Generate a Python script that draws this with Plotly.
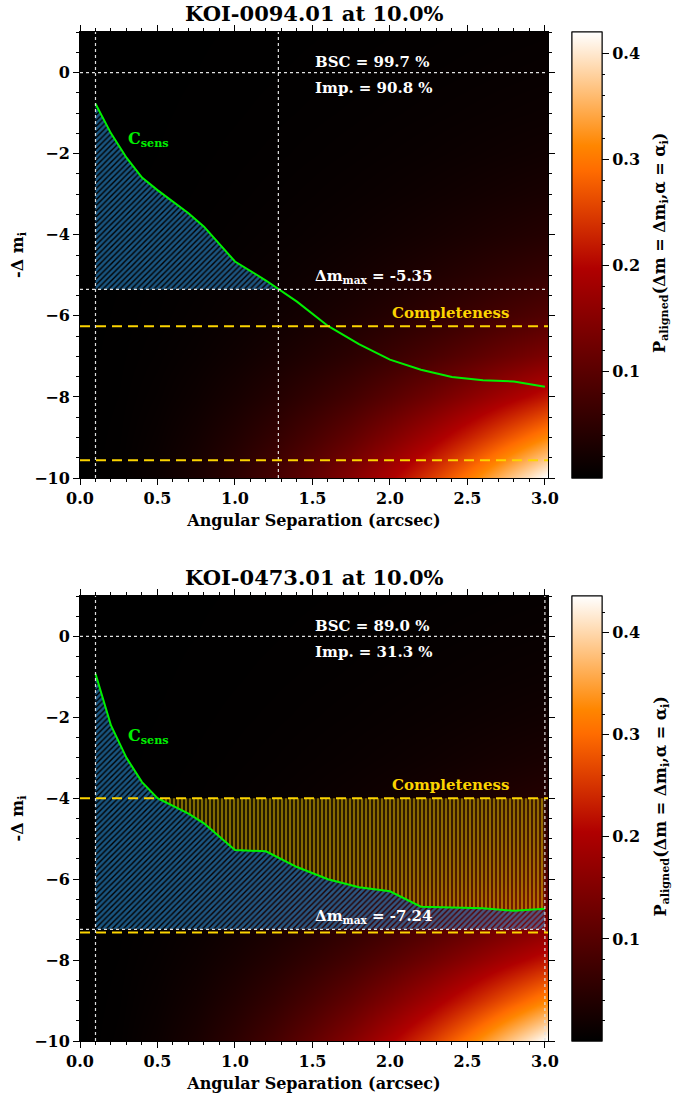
import numpy as np
import plotly.graph_objects as go

# ---------------- data ----------------
# Background probability field, sampled on a coarse grid (separable profiles)
SEP_GRID = [-0.25, 0.0, 0.25, 0.5, 0.75, 1.0, 1.25, 1.5, 1.75, 2.0, 2.25, 2.5, 2.75, 3.0, 3.25]
SEP_WEIGHT = [0.0, 0.0, 0.008, 0.03, 0.066, 0.118, 0.182, 0.26, 0.35, 0.46, 0.58, 0.715, 0.86, 1.0, 1.17]
DM_GRID = [2, 1, 0, -1, -2, -3, -4, -5, -6, -7, -8, -9, -10, -11]
DM_WEIGHT = [0.009, 0.0135, 0.020, 0.0295, 0.0437, 0.0646, 0.0955, 0.143, 0.215, 0.33, 0.51, 0.74, 1.0, 1.4]
PMAX_TOP = 0.42
PMAX_BOT = 0.436

# Contrast sensitivity curves (C_sens)
CURVE_SEP = [0.1, 0.2, 0.3, 0.4, 0.5, 0.6, 0.7, 0.8, 0.9, 1.0, 1.2, 1.4, 1.6, 1.8, 2.0, 2.2, 2.4, 2.6, 2.8, 3.0]
CSENS_TOP = [-0.77, -1.5, -2.1, -2.59, -2.9, -3.18, -3.47, -3.8, -4.22, -4.66,
             -5.13, -5.65, -6.25, -6.70, -7.08, -7.33, -7.51, -7.59, -7.62, -7.75]
CSENS_BOT = [-0.92, -2.2, -3.0, -3.6, -4.0, -4.2, -4.38, -4.62, -4.95, -5.28,
             -5.31, -5.7, -6.0, -6.2, -6.3, -6.68, -6.7, -6.72, -6.78, -6.73]

TITLE_TOP = "KOI-0094.01 at 10.0%"
TITLE_BOT = "KOI-0473.01 at 10.0%"
BSC_TOP, IMP_TOP, DMMAX_TOP = 99.7, 90.8, -5.35
BSC_BOT, IMP_BOT, DMMAX_BOT = 89.0, 31.3, -7.24
SEP_MIN = 0.1
SEPLIM_TOP, SEPLIM_BOT = 1.28, 3.0
COMPL_TOP, LIMIT_TOP = -6.26, -9.56
COMPL_BOT, LIMIT_BOT = -4.0, -7.32

CB_TICKS = [0.1, 0.2, 0.3, 0.4]
CB_TITLE = "P<sub>aligned</sub>(Δm = Δm<sub>i</sub>,α = α<sub>i</sub>)"

# ---------------- styling ----------------
W, H = 687, 1102
FONT = "DejaVu Serif"
HEAT = [
    [0.0, "rgb(0,0,0)"],
    [0.47, "rgb(176,0,0)"],
    [0.69, "rgb(255,108,0)"],
    [0.745, "rgb(255,134,0)"],
    [1.0, "rgb(255,255,255)"],
]
GREEN = "rgb(0,240,0)"
GOLD = "rgb(252,212,0)"
BLUE = "rgb(50,170,255)"

px_x = lambda p: p / W
px_y = lambda p: 1 - p / H

XDOM = [px_x(80), px_x(548)]
PANELS = [
    dict(top=32, bot=478, xa="x", ya="y"),
    dict(top=596, bot=1041, xa="x2", ya="y2"),
]

fig = go.Figure()

sep_w = np.array(SEP_WEIGHT)
dm_w = np.array(DM_WEIGHT)
sep_arr = np.array(CURVE_SEP)


def add_panel(i, pmax, csens, title, bsc, imp, dmmax, seplim, compl, limit):
    p = PANELS[i]
    xa, ya = p["xa"], p["ya"]
    z = pmax * np.outer(dm_w, sep_w)
    ymid = (px_y(p["top"]) + px_y(p["bot"])) / 2
    ylen = (p["bot"] - p["top"]) / H
    fig.add_trace(go.Heatmap(
        x=SEP_GRID, y=DM_GRID, z=z, zmin=0, zmax=pmax, colorscale=HEAT,
        zsmooth="best", xaxis=xa, yaxis=ya, hoverinfo="skip",
        colorbar=dict(
            x=px_x(572), xanchor="left", y=ymid, yanchor="middle",
            len=ylen, lenmode="fraction", thickness=30, thicknessmode="pixels",
            xpad=0, ypad=0, outlinewidth=1, outlinecolor="black",
            ticks="outside", ticklen=7, tickwidth=1, tickcolor="black",
            tickvals=CB_TICKS, tickformat=".1f",
            tickfont=dict(family=FONT, size=16, color="black", weight="bold"),
        ),
    ))
    # minor colorbar ticks via an empty scatter with its own colorbar
    minor_vals = [round(v, 2) for v in np.arange(0.02, pmax, 0.02)]
    fig.add_trace(go.Scatter(
        x=[None], y=[None], xaxis=xa, yaxis=ya, mode="markers", showlegend=False,
        marker=dict(color=[0], cmin=0, cmax=pmax, colorscale=HEAT, showscale=True,
                    colorbar=dict(
                        x=px_x(572), xanchor="left", y=ymid, yanchor="middle",
                        len=ylen, lenmode="fraction", thickness=30, thicknessmode="pixels",
                        xpad=0, ypad=0, outlinewidth=1, outlinecolor="black",
                        ticks="outside", ticklen=3, tickwidth=1, tickcolor="black",
                        tickvals=minor_vals, showticklabels=False)),
        hoverinfo="skip",
    ))
    # colorbar title (rotated)
    fig.add_annotation(x=px_x(661), y=ymid + 12 / H, xref="paper", yref="paper",
                       text=CB_TITLE, textangle=-90, showarrow=False,
                       xanchor="center", yanchor="middle",
                       font=dict(family=FONT, size=16, color="black", weight="bold"))

    cs = np.array(csens)
    # blue hatched region: between C_sens and Δm_max
    if cs[-1] < dmmax:
        xc = float(np.interp(dmmax, cs[::-1], sep_arr[::-1]))
        keep = cs > dmmax
        bx = [SEP_MIN] + list(sep_arr[keep]) + [xc, SEP_MIN]
        by = [dmmax] + list(cs[keep]) + [dmmax, dmmax]
    else:
        bx = [SEP_MIN] + list(sep_arr) + [sep_arr[-1], SEP_MIN]
        by = [dmmax] + list(cs) + [dmmax, dmmax]
    fig.add_trace(go.Scatter(
        x=bx, y=by, xaxis=xa, yaxis=ya, mode="lines", line=dict(width=0),
        fill="toself", fillcolor="rgba(0,0,0,0)", showlegend=False, hoverinfo="skip",
        fillpattern=dict(shape="/", fgcolor=BLUE, size=4, solidity=0.65, fillmode="overlay"),
    ))
    # yellow hatched region: between completeness and C_sens
    if i == 1:
        xc2 = float(np.interp(compl, cs[::-1], sep_arr[::-1]))
        keep = cs < compl
        yx = [xc2] + list(sep_arr[keep]) + [sep_arr[-1], xc2]
        yy = [compl] + list(cs[keep]) + [compl, compl]
        fig.add_trace(go.Scatter(
            x=yx, y=yy, xaxis=xa, yaxis=ya, mode="lines", line=dict(width=0),
            fill="toself", fillcolor="rgba(0,0,0,0)", showlegend=False, hoverinfo="skip",
            fillpattern=dict(shape="|", fgcolor=GOLD, size=4, solidity=0.62, fillmode="overlay"),
        ))
    # C_sens curve
    fig.add_trace(go.Scatter(
        x=CURVE_SEP, y=csens, xaxis=xa, yaxis=ya, mode="lines",
        line=dict(color=GREEN, width=2), showlegend=False, hoverinfo="skip",
    ))

    xd = xa + " domain"
    yd = ya + " domain"
    # white dotted reference lines
    for yv in (0, dmmax):
        fig.add_shape(type="line", xref=xd, yref=ya, x0=0, x1=1, y0=yv, y1=yv,
                      line=dict(color="rgb(225,225,225)", width=1.2, dash="dot"))
    for xv in (SEP_MIN, seplim):
        fig.add_shape(type="line", xref=xa, yref=yd, x0=xv, x1=xv, y0=0, y1=1,
                      line=dict(color="rgb(225,225,225)", width=1.2, dash="dot"))
    # yellow dashed lines
    for yv in (compl, limit):
        fig.add_shape(type="line", xref=xd, yref=ya, x0=0, x1=1, y0=yv, y1=yv,
                      line=dict(color=GOLD, width=2, dash="10px,6px"))

    txt = dict(family=FONT, size=15, color="white", weight="bold")
    fig.add_annotation(x=1.505, y=0.25, xref=xa, yref=ya, text=f"BSC = {bsc:.1f} %",
                       showarrow=False, xanchor="left", font=txt)
    fig.add_annotation(x=1.505, y=-0.38, xref=xa, yref=ya, text=f"Imp. = {imp:.1f} %",
                       showarrow=False, xanchor="left", font=txt)
    fig.add_annotation(x=1.505, y=dmmax + (0.33 if i == 0 else 0.31), xref=xa, yref=ya,
                       text=f"Δm<sub>max</sub> = {dmmax:.2f}",
                       showarrow=False, xanchor="left", font=txt)
    fig.add_annotation(x=2.39, y=compl + 0.33, xref=xa, yref=ya, text="Completeness",
                       showarrow=False, xanchor="center",
                       font=dict(family=FONT, size=15, color=GOLD, weight="bold"))
    cy = -1.65 if i == 0 else -2.47
    fig.add_annotation(x=0.3, y=cy, xref=xa, yref=ya, text="C<sub>sens</sub>",
                       showarrow=False, xanchor="left",
                       font=dict(family=FONT, size=16, color=GREEN, weight="bold"))
    # panel title
    fig.add_annotation(x=(XDOM[0] + XDOM[1]) / 2, y=px_y(p["top"] - 4), xref="paper", yref="paper",
                       text=title, showarrow=False, xanchor="center", yanchor="bottom",
                       font=dict(family=FONT, size=21, color="black", weight="bold"))


add_panel(0, PMAX_TOP, CSENS_TOP, TITLE_TOP, BSC_TOP, IMP_TOP, DMMAX_TOP, SEPLIM_TOP, COMPL_TOP, LIMIT_TOP)
add_panel(1, PMAX_BOT, CSENS_BOT, TITLE_BOT, BSC_BOT, IMP_BOT, DMMAX_BOT, SEPLIM_BOT, COMPL_BOT, LIMIT_BOT)

TICKFONT = dict(family=FONT, size=16, color="black", weight="bold")
TITLEFONT = dict(family=FONT, size=16, color="black", weight="bold")


def xaxis(p, anchor):
    return dict(domain=XDOM, anchor=anchor, range=[0, 3.02], tick0=0, dtick=0.5,
                tickformat=".1f", showline=True, linecolor="black", linewidth=1,
                mirror="ticks", ticks="outside", ticklen=6, tickwidth=1, tickcolor="black",
                minor=dict(dtick=0.1, ticks="outside", ticklen=3, tickcolor="black"),
                showgrid=False, zeroline=False, tickfont=TICKFONT, automargin=False,
                title=dict(text="Angular Separation (arcsec)", font=TITLEFONT, standoff=7))


def yaxis(p, anchor):
    return dict(domain=[px_y(p["bot"]), px_y(p["top"])], anchor=anchor, range=[-10, 1],
                tickvals=[0, -2, -4, -6, -8, -10], showline=True, linecolor="black", linewidth=1,
                mirror="ticks", ticks="outside", ticklen=6, tickwidth=1, tickcolor="black",
                minor=dict(dtick=0.5, tick0=0, ticks="outside", ticklen=3, tickcolor="black"),
                showgrid=False, zeroline=False, tickfont=TICKFONT, automargin=False,
                title=dict(text="-Δ m<sub>i</sub>", font=TITLEFONT, standoff=6))


fig.update_layout(
    width=W, height=H, margin=dict(l=0, r=0, t=0, b=0, autoexpand=False),
    paper_bgcolor="white", plot_bgcolor="black", showlegend=False,
    xaxis=xaxis(PANELS[0], "y"), yaxis=yaxis(PANELS[0], "x"),
    xaxis2=xaxis(PANELS[1], "y2"), yaxis2=yaxis(PANELS[1], "x2"),
)

# remove the default page margin so the figure sits at the window's corner
fig.write_html("out.html", config={"displayModeBar": False},
               post_script="document.body.style.margin='0px';")
